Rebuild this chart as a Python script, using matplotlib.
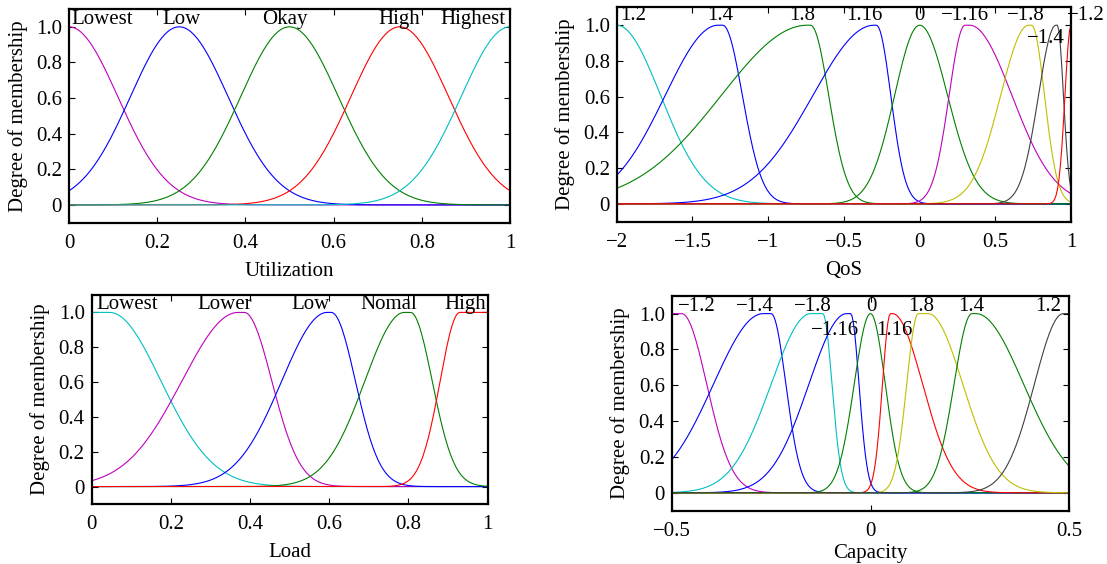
import numpy as np
import matplotlib.pyplot as plt

plt.rcParams['font.family'] = ['Liberation Serif', 'DejaVu Serif']
plt.rcParams['axes.unicode_minus'] = True

# colours (old MATLAB palette)
M = (0.75, 0.0, 0.75)
B = (0.0, 0.0, 1.0)
G = (0.0, 0.5, 0.0)
R = (1.0, 0.0, 0.0)
C = (0.0, 0.75, 0.75)
Y = (0.75, 0.75, 0.0)
K = (0.25, 0.25, 0.25)

# --- Utilization: membership functions (left centre, left sigma, right centre, right sigma)
util_names = ['Lowest', 'Low', 'Okay', 'High', 'Highest']
util_c1 = [0.0, 0.25, 0.5, 0.75, 1.0]
util_s1 = [0.111, 0.111, 0.111, 0.111, 0.111]
util_c2 = [0.0, 0.25, 0.5, 0.75, 1.0]
util_s2 = [0.111, 0.111, 0.111, 0.111, 0.111]
util_colors = [M, B, G, R, C]
util_lx = [0.075, 0.256, 0.49, 0.75, 0.917]
util_ly = [1.04, 1.04, 1.04, 1.04, 1.04]

# --- QoS
qos_names = ['1.2', '1.4', '1.8', '1.16', '0', '\u22121.16', '\u22121.8', '\u22121.4', '\u22121.2']
qos_c1 = [-2.0, -1.33, -0.74, -0.30, 0.0, 0.30, 0.72, 0.90, 1.0]
qos_s1 = [0.29, 0.35, 0.57, 0.405, 0.165, 0.105, 0.185, 0.115, 0.04]
qos_c2 = [-2.0, -1.30, -0.72, -0.285, 0.0, 0.33, 0.74, 0.91, 1.0]
qos_s2 = [0.29, 0.13, 0.12, 0.095, 0.185, 0.28, 0.085, 0.04, 0.04]
qos_colors = [C, B, G, B, G, M, Y, K, R]
qos_lx = [-1.89, -1.318, -0.774, -0.365, 0.0, 0.299, 0.699, 0.835, 1.10]
qos_ly = [1.053, 1.053, 1.053, 1.053, 1.053, 1.053, 1.053, 0.925, 1.053]

# --- Load
load_names = ['Lowest', 'Lower', 'Low', 'Nomal', 'High']
load_c1 = [0.0, 0.37, 0.595, 0.79, 0.93]
load_s1 = [0.13, 0.142, 0.115, 0.10, 0.05]
load_c2 = [0.045, 0.385, 0.605, 0.805, 1.0]
load_s2 = [0.13, 0.07, 0.061, 0.055, 0.05]
load_colors = [C, M, B, G, R]
load_lx = [0.09, 0.335, 0.553, 0.75, 0.944]
load_ly = [1.044, 1.044, 1.044, 1.044, 1.044]

# --- Capacity
cap_names = ['\u22121.2', '\u22121.4', '\u22121.8', '\u22121.16', '0', '1.16', '1.8', '1.4', '1.2']
cap_c1 = [-0.5, -0.27, -0.15, -0.06, 0.0, 0.05, 0.12, 0.255, 0.485]
cap_s1 = [0.063, 0.125, 0.10, 0.095, 0.041, 0.02, 0.029, 0.045, 0.073]
cap_c2 = [-0.475, -0.25, -0.12, -0.05, 0.0, 0.055, 0.145, 0.265, 0.5]
cap_s2 = [0.063, 0.037, 0.023, 0.021, 0.037, 0.076, 0.087, 0.12, 0.073]
cap_colors = [M, B, C, B, G, R, Y, G, K]
cap_lx = [-0.438, -0.292, -0.145, -0.09, 0.002, 0.061, 0.127, 0.254, 0.446]
cap_ly = [1.041, 1.041, 1.041, 0.906, 1.041, 0.906, 1.041, 1.041, 1.041]

FS = 15


def gauss2mf(x, c1, s1, c2, s2):
    y = np.ones_like(x)
    left = x < c1
    right = x > c2
    y[left] = np.exp(-(x[left] - c1) ** 2 / (2 * s1 ** 2))
    y[right] = np.exp(-(x[right] - c2) ** 2 / (2 * s2 ** 2))
    return y


def draw(ax, xr, c1, s1, c2, s2, colors, names, lx, ly, xticks, xticklabels, xlabel, xpad):
    x = np.linspace(xr[0], xr[1], 301)
    for i in range(len(names)):
        ax.plot(x, gauss2mf(x, c1[i], s1[i], c2[i], s2[i]), color=colors[i], lw=0.8)
        ax.text(lx[i], ly[i], names[i], ha='center', va='center', fontsize=FS, clip_on=False)
    ax.set_xlim(xr)
    ax.set_ylim(-0.1, 1.1)
    ax.set_yticks([0, 0.2, 0.4, 0.6, 0.8, 1.0])
    ax.set_yticklabels(['0', '0.2', '0.4', '0.6', '0.8', '1.0'])
    ax.set_xticks(xticks)
    ax.set_xticklabels(xticklabels)
    ax.tick_params(direction='in', top=True, right=True, length=4, width=0.8,
                   labelsize=FS)
    ax.tick_params(axis='x', pad=8)
    ax.tick_params(axis='y', pad=5)
    for sp in ax.spines.values():
        sp.set_linewidth(1.6)
    ax.set_xlabel(xlabel, fontsize=FS, labelpad=xpad)
    ax.set_ylabel('Degree of membership', fontsize=FS, labelpad=6)


fig = plt.figure(figsize=(11.07, 5.64), dpi=100)

ax1 = fig.add_axes([0.0623, 0.6051, 0.3984, 0.3789])
draw(ax1, (0, 1), util_c1, util_s1, util_c2, util_s2, util_colors, util_names,
     util_lx, util_ly, [0, 0.2, 0.4, 0.6, 0.8, 1], ['0', '0.2', '0.4', '0.6', '0.8', '1'],
     'Utilization', 6.5)

ax2 = fig.add_axes([0.5571, 0.6069, 0.4104, 0.3801])
draw(ax2, (-2, 1), qos_c1, qos_s1, qos_c2, qos_s2, qos_colors, qos_names,
     qos_lx, qos_ly, [-2, -1.5, -1, -0.5, 0, 0.5, 1],
     ['\u22122', '\u22121.5', '\u22121', '\u22120.5', '0', '0.5', '1'], 'QoS', 6.5)

ax3 = fig.add_axes([0.0828, 0.1064, 0.3577, 0.3706])
draw(ax3, (0, 1), load_c1, load_s1, load_c2, load_s2, load_colors, load_names,
     load_lx, load_ly, [0, 0.2, 0.4, 0.6, 0.8, 1], ['0', '0.2', '0.4', '0.6', '0.8', '1'],
     'Load', 6.5)

ax4 = fig.add_axes([0.6068, 0.0945, 0.3592, 0.3812])
draw(ax4, (-0.5, 0.5), cap_c1, cap_s1, cap_c2, cap_s2, cap_colors, cap_names,
     cap_lx, cap_ly, [-0.5, 0, 0.5], ['\u22120.5', '0', '0.5'], 'Capacity', 2.5)

fig.savefig('out.png', dpi=100)
